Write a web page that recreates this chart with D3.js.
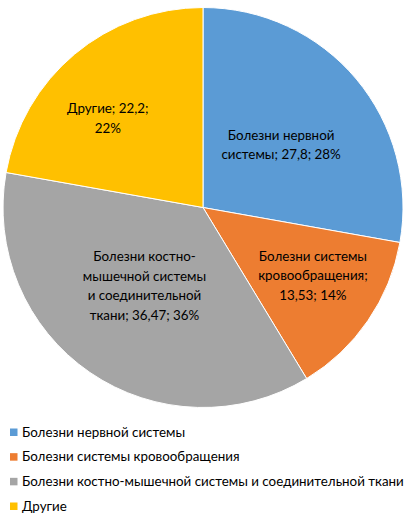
<!DOCTYPE html>
<html>
<head>
<meta charset="utf-8">
<script src="https://cdn.jsdelivr.net/npm/d3@7"></script>
<style>
  body { margin: 0; background: #fff; }
  svg text { font-family: Lato, 'Noto Sans', sans-serif; fill: #000; }
</style>
</head>
<body>
<svg id="canvas" width="409" height="519"></svg>
<script>
var categories = [
  'Болезни нервной системы',
  'Болезни системы кровообращения',
  'Болезни костно-мышечной системы и соединительной ткани',
  'Другие',
];
var values = [27.8, 13.53, 36.47, 22.2];
var colors = ['#5B9BD5', '#ED7D31', '#A5A5A5', '#FFC000'];

// label layout, per slice: distance from centre (share of radius), nudge and wrap width
var labelRadius = [0.49, 0.63, 0.5, 0.64];
var labelShift = [[3, 0], [6, -3], [-2, -4], [-13, 9]];
var labelWrap = [125, 125, 126, 100];

var cx = 203;
var cy = 207.5;
var radius = 200;
var lineHeight = 19.5;

var svg = d3.select('#canvas');

var measure = svg.append('text').style('visibility', 'hidden');
function textWidth(s, size) {
  measure.style('font-size', size + 'px').text(s);
  return measure.node().getComputedTextLength();
}

// pick a size so that the longest legend entry is as wide as in the picture (~382px)
var fontSize = 14.5;
var longest = d3.max(categories, function(c) {
  return textWidth(c, fontSize);
});
fontSize = Math.min(14.5, (fontSize * 382) / longest);

var total = d3.sum(values);
var data = values.map(function(v, i) {
  return {value: v, label: categories[i], color: colors[i], i: i};
});

var pie = d3
  .pie()
  .sort(null)
  .value(function(d) {
    return d.value;
  });
var arc = d3.arc().innerRadius(0).outerRadius(radius);

var chart = svg.append('g').attr('transform', 'translate(' + cx + ',' + cy + ')');

var slices = chart
  .selectAll('.slice')
  .data(pie(data))
  .enter()
  .append('g')
  .attr('class', 'slice');

slices
  .append('path')
  .attr('d', arc)
  .style('fill', function(d) {
    return d.data.color;
  })
  .style('stroke', '#fff')
  .style('stroke-width', 1);

function fmt(v) {
  return String(v).replace('.', ',');
}

// split into words, keeping a break point after a hyphen
function tokens(str) {
  var out = [];
  str.split(' ').forEach(function(w) {
    var parts = w.split('-');
    parts.forEach(function(p, k) {
      out.push({t: k < parts.length - 1 ? p + '-' : p, hy: k < parts.length - 1});
    });
  });
  return out;
}

function wrap(str, maxW) {
  var toks = tokens(str);
  var lines = [];
  var cur = '';
  var prevHy = false;
  toks.forEach(function(tk) {
    var joined = cur === '' ? tk.t : cur + (prevHy ? '' : ' ') + tk.t;
    if (cur !== '' && textWidth(joined, fontSize) > maxW) {
      lines.push(cur);
      cur = tk.t;
    } else {
      cur = joined;
    }
    prevHy = tk.hy;
  });
  if (cur !== '') lines.push(cur);
  return lines;
}

slices.each(function(d) {
  var i = d.data.i;
  var pct = Math.round((d.data.value / total) * 100);
  var full = d.data.label + '; ' + fmt(d.data.value) + '; ' + pct + '%';
  var lines = wrap(full, labelWrap[i]);
  var r = radius * labelRadius[i];
  var c = d3.arc().innerRadius(r).outerRadius(r).centroid(d);
  var lx = c[0] + labelShift[i][0];
  var ly = c[1] + labelShift[i][1];
  var t = d3
    .select(this)
    .append('text')
    .attr('text-anchor', 'middle')
    .style('font-size', fontSize + 'px');
  var y0 = ly - ((lines.length - 1) * lineHeight) / 2 + fontSize * 0.35;
  lines.forEach(function(ln, k) {
    t.append('tspan')
      .attr('x', lx)
      .attr('y', y0 + k * lineHeight)
      .text(ln);
  });
});

measure.remove();

// legend
var legendY = d3
  .scalePoint()
  .domain(categories)
  .range([432, 506]);

var legend = svg
  .selectAll('.legend')
  .data(data)
  .enter()
  .append('g')
  .attr('class', 'legend')
  .attr('transform', function(d) {
    return 'translate(10,' + legendY(d.label) + ')';
  });

legend
  .append('rect')
  .attr('x', 0)
  .attr('y', -3.5)
  .attr('width', 7.5)
  .attr('height', 7.5)
  .style('fill', function(d) {
    return d.color;
  });

legend
  .append('text')
  .attr('x', 12)
  .attr('y', fontSize * 0.35)
  .style('font-size', fontSize + 'px')
  .text(function(d) {
    return d.label;
  });
</script>
</body>
</html>
